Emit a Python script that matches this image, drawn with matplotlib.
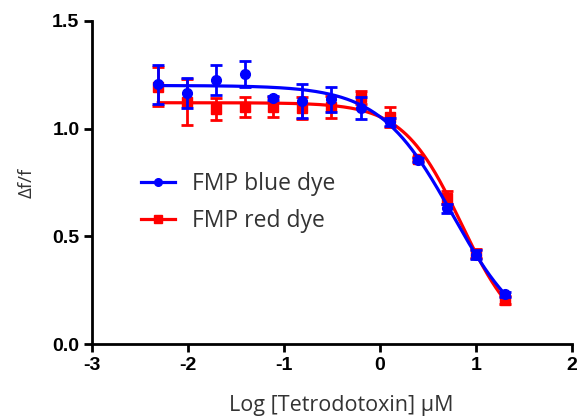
#!/usr/bin/env python

import numpy as np
import matplotlib.pyplot as plt

# log10 concentration (uM), 2-fold dilutions from 20 uM
log_conc = [-2.31, -2.01, -1.71, -1.41, -1.11, -0.81, -0.51, -0.20, 0.10, 0.40, 0.70, 1.00, 1.30]

blue_y = [1.206, 1.165, 1.225, 1.255, 1.142, 1.128, 1.135, 1.095, 1.030, 0.855, 0.630, 0.415, 0.230]
blue_err = [0.09, 0.07, 0.07, 0.06, 0.01, 0.08, 0.06, 0.05, 0.02, 0.01, 0.02, 0.02, 0.01]

red_y = [1.195, 1.123, 1.092, 1.100, 1.100, 1.095, 1.100, 1.146, 1.053, 0.860, 0.678, 0.420, 0.204]
red_err = [0.09, 0.107, 0.05, 0.045, 0.045, 0.05, 0.05, 0.03, 0.045, 0.01, 0.03, 0.02, 0.02]

# fitted 4-parameter logistic (top, bottom, logEC50, hill)
blue_fit = (1.20, 0.0, 0.755, 1.14)
red_fit = (1.12, 0.0, 0.845, 1.43)

x_ticks = [-3, -2, -1, 0, 1, 2]
y_ticks = [0.0, 0.5, 1.0, 1.5]


def hill(x, top, bottom, c, h):
    return bottom + (top - bottom) / (1 + 10**((x - c) * h))


plt.rcParams['font.family'] = ['Liberation Sans', 'DejaVu Sans']
plt.rcParams['axes.unicode_minus'] = False
fig = plt.figure(figsize=(5.82, 4.17), dpi=100)
ax = fig.add_axes([0.158, 0.175, 0.825, 0.775])

xx = np.linspace(log_conc[0], log_conc[-1], 300)

ax.plot(xx, hill(xx, *red_fit), color='#ff0000', lw=2.3, zorder=2)
ax.errorbar(log_conc, red_y, yerr=red_err, fmt='s', color='#ff0000', ms=7,
            capsize=4.5, capthick=2, elinewidth=2, zorder=3)
ax.plot(xx, hill(xx, *blue_fit), color='#0000ff', lw=2.3, zorder=4)
ax.errorbar(log_conc, blue_y, yerr=blue_err, fmt='o', color='#0000ff', ms=7,
            capsize=4.5, capthick=2, elinewidth=2, zorder=5)

# legend handles
ax.plot([], [], '-o', color='#0000ff', lw=2.3, ms=5.5, label='FMP blue dye')
ax.plot([], [], '-s', color='#ff0000', lw=2.3, ms=5.5, label='FMP red dye')
leg = ax.legend(loc='upper left', bbox_to_anchor=(0.06, 0.595), frameon=False,
                handlelength=1.45, handletextpad=0.75,
                prop={'family': 'Open Sans', 'size': 16.5},
                labelspacing=0.55)
for t in leg.get_texts():
    t.set_color('#333333')

ax.set_xlim(-3, 2)
ax.set_ylim(0, 1.5)
ax.set_xticks(x_ticks)
ax.set_yticks(y_ticks)
ax.set_yticklabels([f'{v:.1f}' for v in y_ticks])
for s in ['top', 'right']:
    ax.spines[s].set_visible(False)
for s in ['left', 'bottom']:
    ax.spines[s].set_linewidth(2)
ax.tick_params(width=2, length=6, labelsize=14, pad=3)
for lab in ax.get_xticklabels() + ax.get_yticklabels():
    lab.set_fontweight('bold')

ax.set_xlabel('Log [Tetrodotoxin] µM', fontsize=15.5, color='#333333',
              family='Open Sans')
ax.xaxis.set_label_coords(0.52, -0.158)
ax.set_ylabel('Δf/f', fontsize=13.5, color='#333333', family='Open Sans', labelpad=12)

plt.savefig('out.png', dpi=100)
